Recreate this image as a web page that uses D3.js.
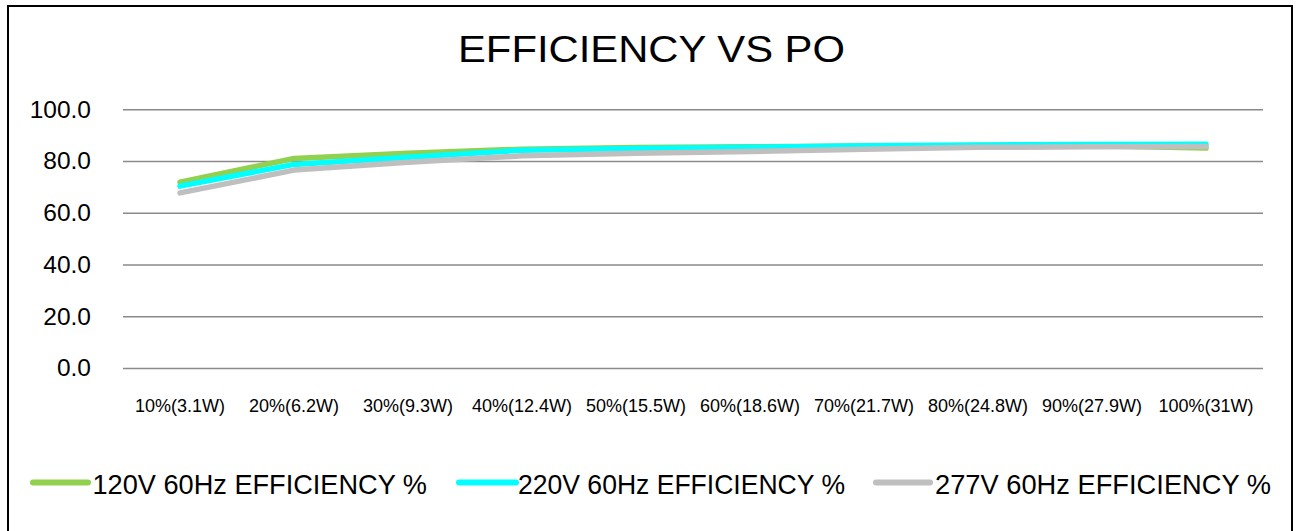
<!DOCTYPE html>
<html>
<head>
<meta charset="utf-8">
<script src="https://cdn.jsdelivr.net/npm/d3@7"></script>
<style>
  html, body { margin: 0; padding: 0; background: #fff; }
  svg { display: block; font-family: Arial, "Liberation Sans", sans-serif; }
</style>
</head>
<body>
<svg id="chart" width="1299" height="531"></svg>
<script>
const categories = ["10%(3.1W)", "20%(6.2W)", "30%(9.3W)", "40%(12.4W)", "50%(15.5W)",
                    "60%(18.6W)", "70%(21.7W)", "80%(24.8W)", "90%(27.9W)", "100%(31W)"];
const eff120 = [71.8, 81.0, 83.0, 84.6, 85.2, 85.5, 85.8, 86.0, 85.9, 85.0];
const eff220 = [70.3, 78.7, 81.5, 84.2, 84.8, 85.3, 85.9, 86.2, 86.4, 86.5];
const eff277 = [67.7, 76.5, 79.5, 82.0, 83.0, 83.7, 84.6, 85.3, 85.5, 85.6];
const seriesNames = ["120V 60Hz  EFFICIENCY %", "220V 60Hz EFFICIENCY %", "277V 60Hz  EFFICIENCY %"];
const seriesColors = ["#92D050", "#00FFFF", "#BFBFBF"];
const yTicks = [0, 20, 40, 60, 80, 100];
const titleText = "EFFICIENCY VS PO";

(function () {
const series = [eff120, eff220, eff277];
const svg = d3.select("#chart");

// chart border
svg.append("rect").attr("x", 8).attr("y", 6).attr("width", 1284).attr("height", 540)
  .attr("fill", "none").attr("stroke", "#000").attr("stroke-width", 2);

const pLeft = 123, pRight = 1263, pTop = 109.3, pBottom = 368;
const x = d3.scaleBand().domain(categories).range([pLeft, pRight]);
const y = d3.scaleLinear().domain([0, 100]).range([pBottom, pTop]);

// title
svg.append("text").attr("x", 651.5).attr("y", 61.5).attr("text-anchor", "middle")
  .attr("font-size", 37).attr("fill", "#000")
  .attr("textLength", 387).attr("lengthAdjust", "spacingAndGlyphs")
  .text(titleText);

// gridlines + y labels
const yAxis = d3.axisLeft(y).tickValues(yTicks).tickSize(-(pRight - pLeft)).tickPadding(32)
  .tickFormat(d3.format(".1f"));
const gy = svg.append("g").attr("transform", `translate(${pLeft},0)`).call(yAxis);
gy.select(".domain").remove();
gy.selectAll(".tick line").attr("stroke", "#8a8a8a").attr("stroke-width", 1.4);
gy.selectAll(".tick text").attr("font-size", 24.5).attr("fill", "#000")
  .attr("font-family", "Arial, 'Liberation Sans', sans-serif");

// x axis labels
const xAxis = d3.axisBottom(x).tickSize(0).tickPadding(31);
const gx = svg.append("g").attr("transform", `translate(0,${pBottom})`).call(xAxis);
gx.select(".domain").remove();
gx.selectAll(".tick text").attr("font-size", 18).attr("fill", "#000")
  .attr("font-family", "Arial, 'Liberation Sans', sans-serif");

// lines
const line = d3.line()
  .x((d, i) => x(categories[i]) + x.bandwidth() / 2)
  .y(d => y(d));
series.forEach((s, k) => {
  svg.append("path").datum(s).attr("d", line)
    .attr("fill", "none").attr("stroke", seriesColors[k])
    .attr("stroke-width", 5.5).attr("stroke-linecap", "round").attr("stroke-linejoin", "round");
});

// legend
const legendItems = [
  { lx1: 33, lx2: 88, tx: 92.5, tw: 334.5 },
  { lx1: 459, lx2: 516, tx: 518, tw: 327 },
  { lx1: 876, lx2: 930, tx: 935, tw: 336 }
];
const ly = 482.5;
legendItems.forEach((it, k) => {
  svg.append("line").attr("x1", it.lx1).attr("x2", it.lx2).attr("y1", ly).attr("y2", ly)
    .attr("stroke", seriesColors[k]).attr("stroke-width", 6).attr("stroke-linecap", "round");
  svg.append("text").attr("x", it.tx).attr("y", 493.5).attr("font-size", 28).attr("fill", "#000")
    .attr("textLength", it.tw).attr("lengthAdjust", "spacingAndGlyphs")
    .text(seriesNames[k]);
});
})();
</script>
</body>
</html>
